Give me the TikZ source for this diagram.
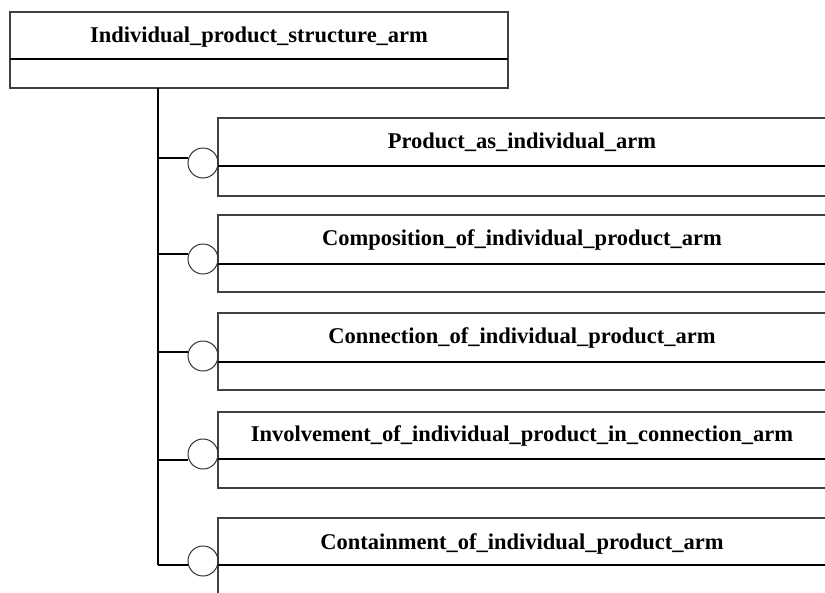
\documentclass[tikz,border=0pt]{standalone}
\usepackage{fontspec}
\setmainfont{Liberation Serif}
\begin{document}
\begin{tikzpicture}[x=1pt,y=-1pt,
  boxline/.style={draw=black!75,line width=1.1pt},
  divline/.style={draw=black,line width=2.2pt},
  lbl/.style={font=\fontsize{22.5}{24}\selectfont\bfseries,inner sep=0pt,anchor=center},
  conn/.style={draw=black,line width=1.1pt},
  trunkline/.style={draw=black,line width=1.6pt},
  ring/.style={circle,draw=black!80,line width=1pt,minimum size=30pt,inner sep=0pt}]
\useasboundingbox (0,0) rectangle (825,592);
\fill[white] (0,0) rectangle (825,592);
% top box
\draw[boxline] (10,12) rectangle (508,88);
\draw[divline] (10,59) -- (508,59);
\node[lbl] (toplabel) at (259,37) {Individual\_product\_structure\_arm};
\coordinate (trunktop) at (158,88);
% children: top, divider, bottom, text y, circle y, stub y
\foreach \n/\t/\d/\b/\ty/\cy/\sy/\txt in {
 a/118/166/196/142/163/158/Product\_as\_individual\_arm,
 b/215/264/292/240/259/254/Composition\_of\_individual\_product\_arm,
 c/313/362/390/338/356/352/Connection\_of\_individual\_product\_arm,
 d/412/459/488/436/454/460/Involvement\_of\_individual\_product\_in\_connection\_arm,
 e/518/565/600/544/561/565/Containment\_of\_individual\_product\_arm}{
  \draw[boxline] (218,\t) rectangle (830,\b);
  \draw[divline] (218,\d) -- (830,\d);
  \node[lbl] (label\n) at (522,\ty) {\txt};
  \node[ring] (ring\n) at (203,\cy) {};
  \coordinate (stub\n) at (158,\sy);
  \draw[conn] (stub\n) -- (ring\n.west |- stub\n);
}
\draw[trunkline] (trunktop) -- (stube);
\end{tikzpicture}
\end{document}
